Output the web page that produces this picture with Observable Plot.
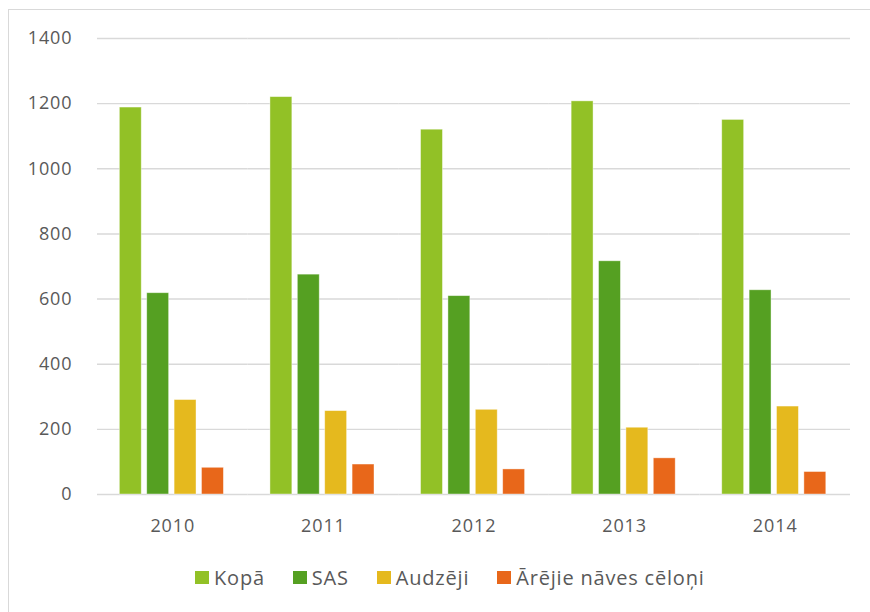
<!DOCTYPE html>
<html><head><meta charset="utf-8">
<script src="https://cdn.jsdelivr.net/npm/d3@7"></script>
<script src="https://cdn.jsdelivr.net/npm/@observablehq/plot@0.6"></script>
<style>
body{margin:0;background:#fff;font-family:"Open Sans",sans-serif;overflow:hidden;}
#frame{position:absolute;left:8px;top:9px;width:900px;height:700px;border-left:1.5px solid #d9d9d9;border-top:1.5px solid #d9d9d9;}
#chart{position:absolute;left:0;top:0;}
#chart svg text{letter-spacing:0.9px;}
#legend{position:absolute;left:195px;top:564px;display:flex;align-items:center;color:#595959;font-size:20px;letter-spacing:0.8px;}
.item{display:flex;align-items:center;margin-right:28px;}
.sw{width:14px;height:13px;margin-right:5px;}
</style></head>
<body>
<div id="frame"></div>
<div id="chart"></div>
<div id="legend"></div>
<script>
const years = ["2010","2011","2012","2013","2014"];
const seriesNames = ["Kopā","SAS","Audzēji","Ārējie nāves cēloņi"];
const kopa = [1188, 1220, 1120, 1207, 1150];
const sas = [618, 675, 609, 716, 627];
const audzeji = [290, 256, 260, 205, 270];
const arejie = [82, 92, 77, 111, 69];
const colors = ["#92c126","#55a022","#e5b91e","#e8671a"];
const yTicks = [0,200,400,600,800,1000,1200,1400];

const seriesValues = [kopa, sas, audzeji, arejie];
const table = [];
years.forEach((yr, i) => seriesNames.forEach((s, j) => table.push({year: yr, series: s, value: seriesValues[j][i]})));

const plot = Plot.plot({
  width: 870, height: 550,
  marginLeft: 97, marginRight: 20, marginTop: 38, marginBottom: 56,
  style: {fontFamily: "Open Sans", fontSize: "18px", color: "#595959", background: "transparent"},
  fx: {domain: years, padding: 0, round: false, label: null},
  x: {domain: seriesNames, paddingInner: 0.2, paddingOuter: 0.85, align: 0.48, round: false, axis: null},
  y: {domain: [0, 1400], label: null},
  color: {domain: seriesNames, range: colors},
  marks: [
    Plot.gridY(yTicks, {stroke: "#d9d9d9", strokeOpacity: 1, strokeWidth: 1.4}),
    Plot.barY(table, {fx: "year", x: "series", y: "value", fill: "series", stroke: "white", strokeWidth: 0.8, strokeOpacity: 0.5}),
    Plot.axisY(yTicks, {tickSize: 0, tickPadding: 25, label: null, fill: "#595959", tickFormat: d => String(d)}),
    Plot.axisFx({anchor: "bottom", tickSize: 0, tickPadding: 25, label: null, fill: "#595959"})
  ]
});
document.getElementById("chart").appendChild(plot);

const legend = document.getElementById("legend");
seriesNames.forEach((s, i) => {
  const it = document.createElement("div");
  it.className = "item";
  const sw = document.createElement("div");
  sw.className = "sw";
  sw.style.background = colors[i];
  const t = document.createElement("span");
  t.textContent = s;
  it.appendChild(sw); it.appendChild(t);
  legend.appendChild(it);
});
</script>
</body></html>
